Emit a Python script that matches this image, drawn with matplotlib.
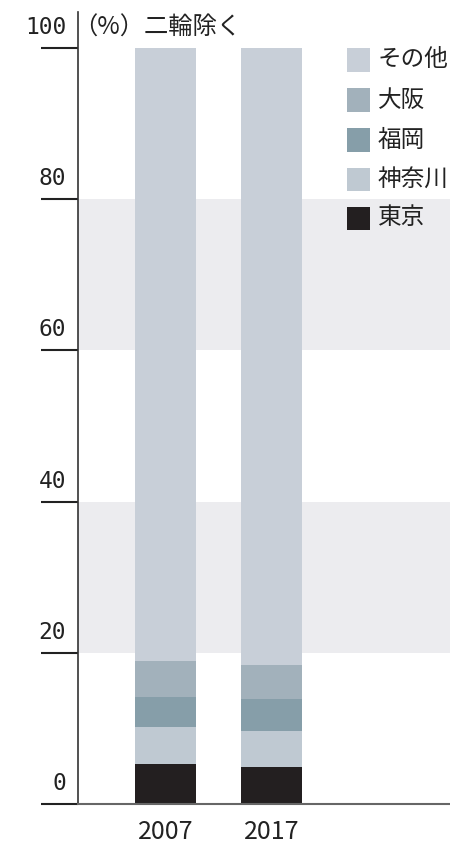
import matplotlib
matplotlib.use("Agg")
import matplotlib.pyplot as plt
import matplotlib.transforms as mtransforms
from matplotlib.patches import Rectangle

plt.rcParams['font.family'] = ['Noto Sans CJK JP', 'DejaVu Sans']

years = ["2007", "2017"]
series_names = ["東京", "神奈川", "福岡", "大阪", "その他"]
tokyo = [5.3, 4.9]
kanagawa = [4.9, 4.8]
fukuoka = [4.0, 4.2]
osaka = [4.7, 4.5]
others = [81.1, 81.6]
series_values = [tokyo, kanagawa, fukuoka, osaka, others]
colors = ["#231f20", "#bfc9d2", "#869ea9", "#a2b1bb", "#c8cfd8"]
yticks = [0, 20, 40, 60, 80, 100]
bands = [(20, 40), (60, 80)]

W, H = 450, 844
fig = plt.figure(figsize=(W / 100, H / 100), dpi=100)
px_per_unit = (804 - 48) / 100.0
top_px = 12
ax = fig.add_axes([78 / W, (H - 804) / H, (W - 78) / W, (804 - top_px) / H])
ax.set_ylim(0, (804 - top_px) / px_per_unit)
ax.set_xlim(-87.5 / 106, (372 - 87.5) / 106)

for lo, hi in bands:
    ax.axhspan(lo, hi, color="#ececef", lw=0, zorder=0)

x = list(range(len(years)))
bottom = [0.0] * len(years)
for name, vals, c in zip(series_names, series_values, colors):
    ax.bar(x, vals, bottom=bottom, width=61 / 106, color=c, lw=0, zorder=2, label=name)
    bottom = [bt + v for bt, v in zip(bottom, vals)]

for s in ["top", "right"]:
    ax.spines[s].set_visible(False)
ax.spines["left"].set_color("#333333")
ax.spines["left"].set_linewidth(1.2)
ax.spines["bottom"].set_color("#666666")
ax.spines["bottom"].set_linewidth(1.5)

ax.set_yticks(yticks)
ax.set_yticklabels([])
ax.tick_params(axis="y", length=37 * 0.72, width=1.5, color="#222222", direction="out")
trans = mtransforms.blended_transform_factory(ax.transAxes, ax.transData)
for t in yticks:
    ax.text(-12 / 372, t + 14 / px_per_unit, str(t), transform=trans, ha="right", va="baseline",
            fontsize=16.5, family="DejaVu Sans Mono", color="#222222")

ax.set_xticks(x)
ax.set_xticklabels(years, fontsize=18, color="#222222")
ax.tick_params(axis="x", length=0, pad=11)

fig.text(73 / W, 1 - 28 / H, "（%）二輪除く", fontsize=17.5, va="center", ha="left", color="#222222")

# legend (top entry first)
row_y = [60, 100, 140, 179, 218]
for i, (name, c) in enumerate(zip(series_names[::-1], colors[::-1])):
    cy = row_y[i]
    fig.add_artist(Rectangle((347 / W, 1 - (cy + 11.5) / H), 23 / W, 23 / H,
                             transform=fig.transFigure, facecolor=c, lw=0))
    fig.text(378 / W, 1 - cy / H, name, fontsize=17, va="center", ha="left", color="#222222")

fig.savefig("out.png", dpi=100)
